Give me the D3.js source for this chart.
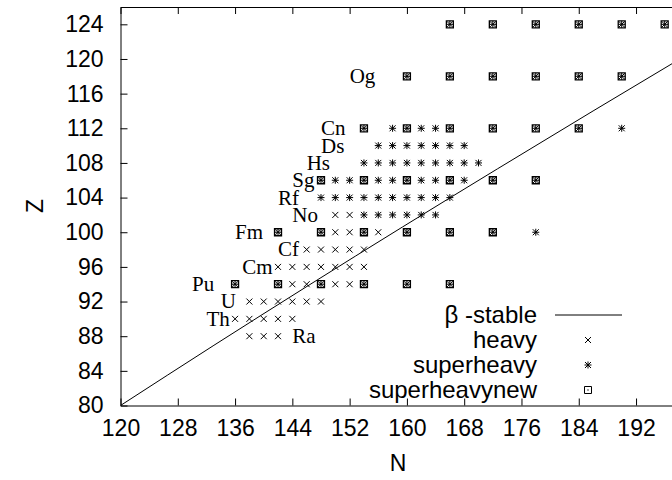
<!DOCTYPE html>
<html>
<head>
<meta charset="utf-8">
<script src="https://cdn.jsdelivr.net/npm/d3@7"></script>
<style>
  body { margin: 0; background: #fff; }
  svg { display: block; }
  .axis text { font-family: "Liberation Sans", Arial, sans-serif; font-size: 23px; fill: #000; }
  .axis line, .axis path { stroke: #000; stroke-width: 1; }
</style>
</head>
<body>
<div id="chart"></div>
<script>
// nuclei, [N, Z]
var heavy = [
  [138, 88], [140, 88], [142, 88],
  [136, 90], [138, 90], [140, 90], [142, 90], [144, 90],
  [138, 92], [140, 92], [142, 92], [144, 92], [146, 92], [148, 92],
  [144, 94], [146, 94], [150, 94], [152, 94],
  [142, 96], [144, 96], [146, 96], [148, 96], [150, 96], [152, 96], [154, 96],
  [146, 98], [148, 98], [150, 98], [152, 98], [154, 98],
  [150, 100], [152, 100], [156, 100],
  [150, 102], [152, 102]
];
var superheavy = [
  [178, 100],
  [154, 102], [156, 102], [158, 102], [160, 102], [162, 102], [164, 102],
  [148, 104], [150, 104], [152, 104], [154, 104], [156, 104], [158, 104], [160, 104], [162, 104], [164, 104], [166, 104],
  [150, 106], [152, 106], [156, 106], [158, 106], [162, 106], [164, 106], [168, 106],
  [154, 108], [156, 108], [158, 108], [160, 108], [162, 108], [164, 108], [166, 108], [168, 108], [170, 108],
  [156, 110], [158, 110], [160, 110], [162, 110], [164, 110], [166, 110], [168, 110],
  [158, 112], [162, 112], [164, 112], [190, 112]
];
var superheavynew = [
  [136, 94], [142, 94], [148, 94], [154, 94], [160, 94], [166, 94],
  [142, 100], [148, 100], [154, 100], [160, 100], [166, 100], [172, 100],
  [148, 106], [154, 106], [160, 106], [166, 106], [172, 106], [178, 106],
  [154, 112], [160, 112], [166, 112], [172, 112], [178, 112], [184, 112],
  [160, 118], [166, 118], [172, 118], [178, 118], [184, 118], [190, 118],
  [166, 124], [172, 124], [178, 124], [184, 124], [190, 124], [196, 124]
];
// beta-stability line, points
var betaStable = [
  [120, 80], [133.05, 86.95], [146.18, 93.82], [159.39, 100.61],
  [172.67, 107.33], [186, 114], [199.38, 120.62]
];
var elements = ["Ra", "Th", "U", "Pu", "Cm", "Cf", "Fm", "No", "Rf", "Sg", "Hs", "Ds", "Cn", "Og"];
var elementN = [144, 132, 134, 130, 137, 142, 136, 144, 142, 144, 146, 148, 148, 152];
var elementZ = [88, 90, 92, 94, 96, 98, 100, 102, 104, 106, 108, 110, 112, 118];

var xTicks = d3.range(120, 200, 8);
var yTicks = d3.range(80, 125, 4);
var legendNames = ["\u03b2 -stable", "heavy", "superheavy", "superheavynew"];

(function(d3) {
  var width = 672, height = 480;
  var plotLeft = 120.5, plotRight = 679, plotTop = 7, plotBottom = 405.5;

  var svg = d3.select("#chart").append("svg")
    .attr("width", width)
    .attr("height", height);

  var x = d3.scaleLinear().domain([120, 198]).range([plotLeft, plotRight]);
  var y = d3.scaleLinear().domain([80, 126]).range([plotBottom, plotTop]);

  // axes, ticks pointing inward
  var xAxis = svg.append("g").attr("class", "axis")
    .attr("transform", "translate(0," + plotBottom + ")")
    .call(d3.axisBottom(x).tickValues(xTicks).tickSizeInner(-7).tickSizeOuter(0).tickPadding(14));
  xAxis.selectAll("text").attr("dy", "0.71em");

  svg.append("g").attr("class", "axis")
    .attr("transform", "translate(0," + plotTop + ")")
    .call(d3.axisTop(x).tickValues(xTicks).tickSizeInner(-7).tickSizeOuter(0).tickFormat(""));

  svg.append("g").attr("class", "axis")
    .attr("transform", "translate(" + plotLeft + ",0)")
    .call(d3.axisLeft(y).tickValues(yTicks).tickSizeInner(-7).tickSizeOuter(0).tickPadding(17));

  svg.append("g").attr("class", "axis")
    .attr("transform", "translate(" + plotRight + ",0)")
    .call(d3.axisRight(y).tickValues(yTicks).tickSizeInner(-7).tickSizeOuter(0).tickFormat(""));

  svg.selectAll(".axis .domain").attr("fill", "none");

  // axis titles
  svg.append("text")
    .attr("x", 398).attr("y", 471)
    .attr("text-anchor", "middle")
    .attr("font-family", "Liberation Sans, Arial, sans-serif")
    .attr("font-size", "23px")
    .text("N");

  svg.append("text")
    .attr("transform", "translate(43,206) rotate(-90)")
    .attr("text-anchor", "middle")
    .attr("font-family", "Liberation Sans, Arial, sans-serif")
    .attr("font-size", "23px")
    .text("Z");

  // clip to plot
  svg.append("clipPath").attr("id", "plotclip")
    .append("rect").attr("x", plotLeft).attr("y", plotTop)
    .attr("width", plotRight - plotLeft).attr("height", plotBottom - plotTop);

  var plot = svg.append("g").attr("clip-path", "url(#plotclip)");

  var line = d3.line()
    .x(function(d) { return x(d[0]); })
    .y(function(d) { return y(d[1]); })
    .curve(d3.curveMonotoneX);

  plot.append("path")
    .datum(betaStable)
    .attr("d", line)
    .attr("fill", "none")
    .attr("stroke", "#000")
    .attr("stroke-width", 1);

  var crossPath = "M-3,-3L3,3M-3,3L3,-3";
  var starPath = "M-3,-3L3,3M-3,3L3,-3M-3.5,0L3.5,0M0,-3.5L0,3.5";
  var boxPath = "M-3.5,-3.5H3.5V3.5H-3.5Z";

  function place(d) { return "translate(" + x(d[0]) + "," + y(d[1]) + ")"; }

  plot.selectAll(".heavy")
    .data(heavy)
    .enter()
    .append("path")
    .attr("class", "heavy")
    .attr("transform", place)
    .attr("d", crossPath)
    .attr("fill", "none")
    .attr("stroke", "#000")
    .attr("stroke-width", 1);

  plot.selectAll(".superheavy")
    .data(superheavy)
    .enter()
    .append("path")
    .attr("class", "superheavy")
    .attr("transform", place)
    .attr("d", starPath)
    .attr("fill", "none")
    .attr("stroke", "#000")
    .attr("stroke-width", 1);

  // new ones drawn as a box over a star
  var newG = plot.selectAll(".shnew")
    .data(superheavynew)
    .enter()
    .append("g")
    .attr("class", "shnew")
    .attr("transform", place);
  newG.append("path").attr("d", starPath).attr("fill", "none").attr("stroke", "#000").attr("stroke-width", 1);
  newG.append("path").attr("d", boxPath).attr("fill", "none").attr("stroke", "#000").attr("stroke-width", 1.3);

  // element names
  svg.selectAll(".elem")
    .data(elements)
    .enter()
    .append("text")
    .attr("class", "elem")
    .attr("x", function(d, i) { return x(elementN[i]); })
    .attr("y", function(d, i) { return y(elementZ[i]); })
    .attr("dy", "0.33em")
    .attr("font-family", "Liberation Serif, Times New Roman, serif")
    .attr("font-size", "21px")
    .text(function(d) { return d; });

  // key
  var legend = svg.append("g").attr("transform", "translate(537,315)");
  legendNames.forEach(function(name, i) {
    var row = legend.append("g").attr("transform", "translate(0," + (i * 25) + ")");
    row.append("text")
      .attr("text-anchor", "end")
      .attr("dy", "0.35em")
      .attr("font-family", "Liberation Sans, Arial, sans-serif")
      .attr("font-size", "24px")
      .text(name);
    var g = row.append("g").attr("transform", "translate(51,0)");
    if (i == 0) {
      g.append("line").attr("x1", -33).attr("x2", 34).attr("stroke", "#000").attr("stroke-width", 1);
    } else if (i == 1) {
      g.append("path").attr("d", crossPath).attr("fill", "none").attr("stroke", "#000");
    } else if (i == 2) {
      g.append("path").attr("d", starPath).attr("fill", "none").attr("stroke", "#000");
    } else {
      g.append("path").attr("d", boxPath).attr("fill", "none").attr("stroke", "#000");
      g.append("rect").attr("x", -0.6).attr("y", -0.6).attr("width", 1.2).attr("height", 1.2).attr("fill", "#000");
    }
  });
})(window.d3);
</script>
</body>
</html>
